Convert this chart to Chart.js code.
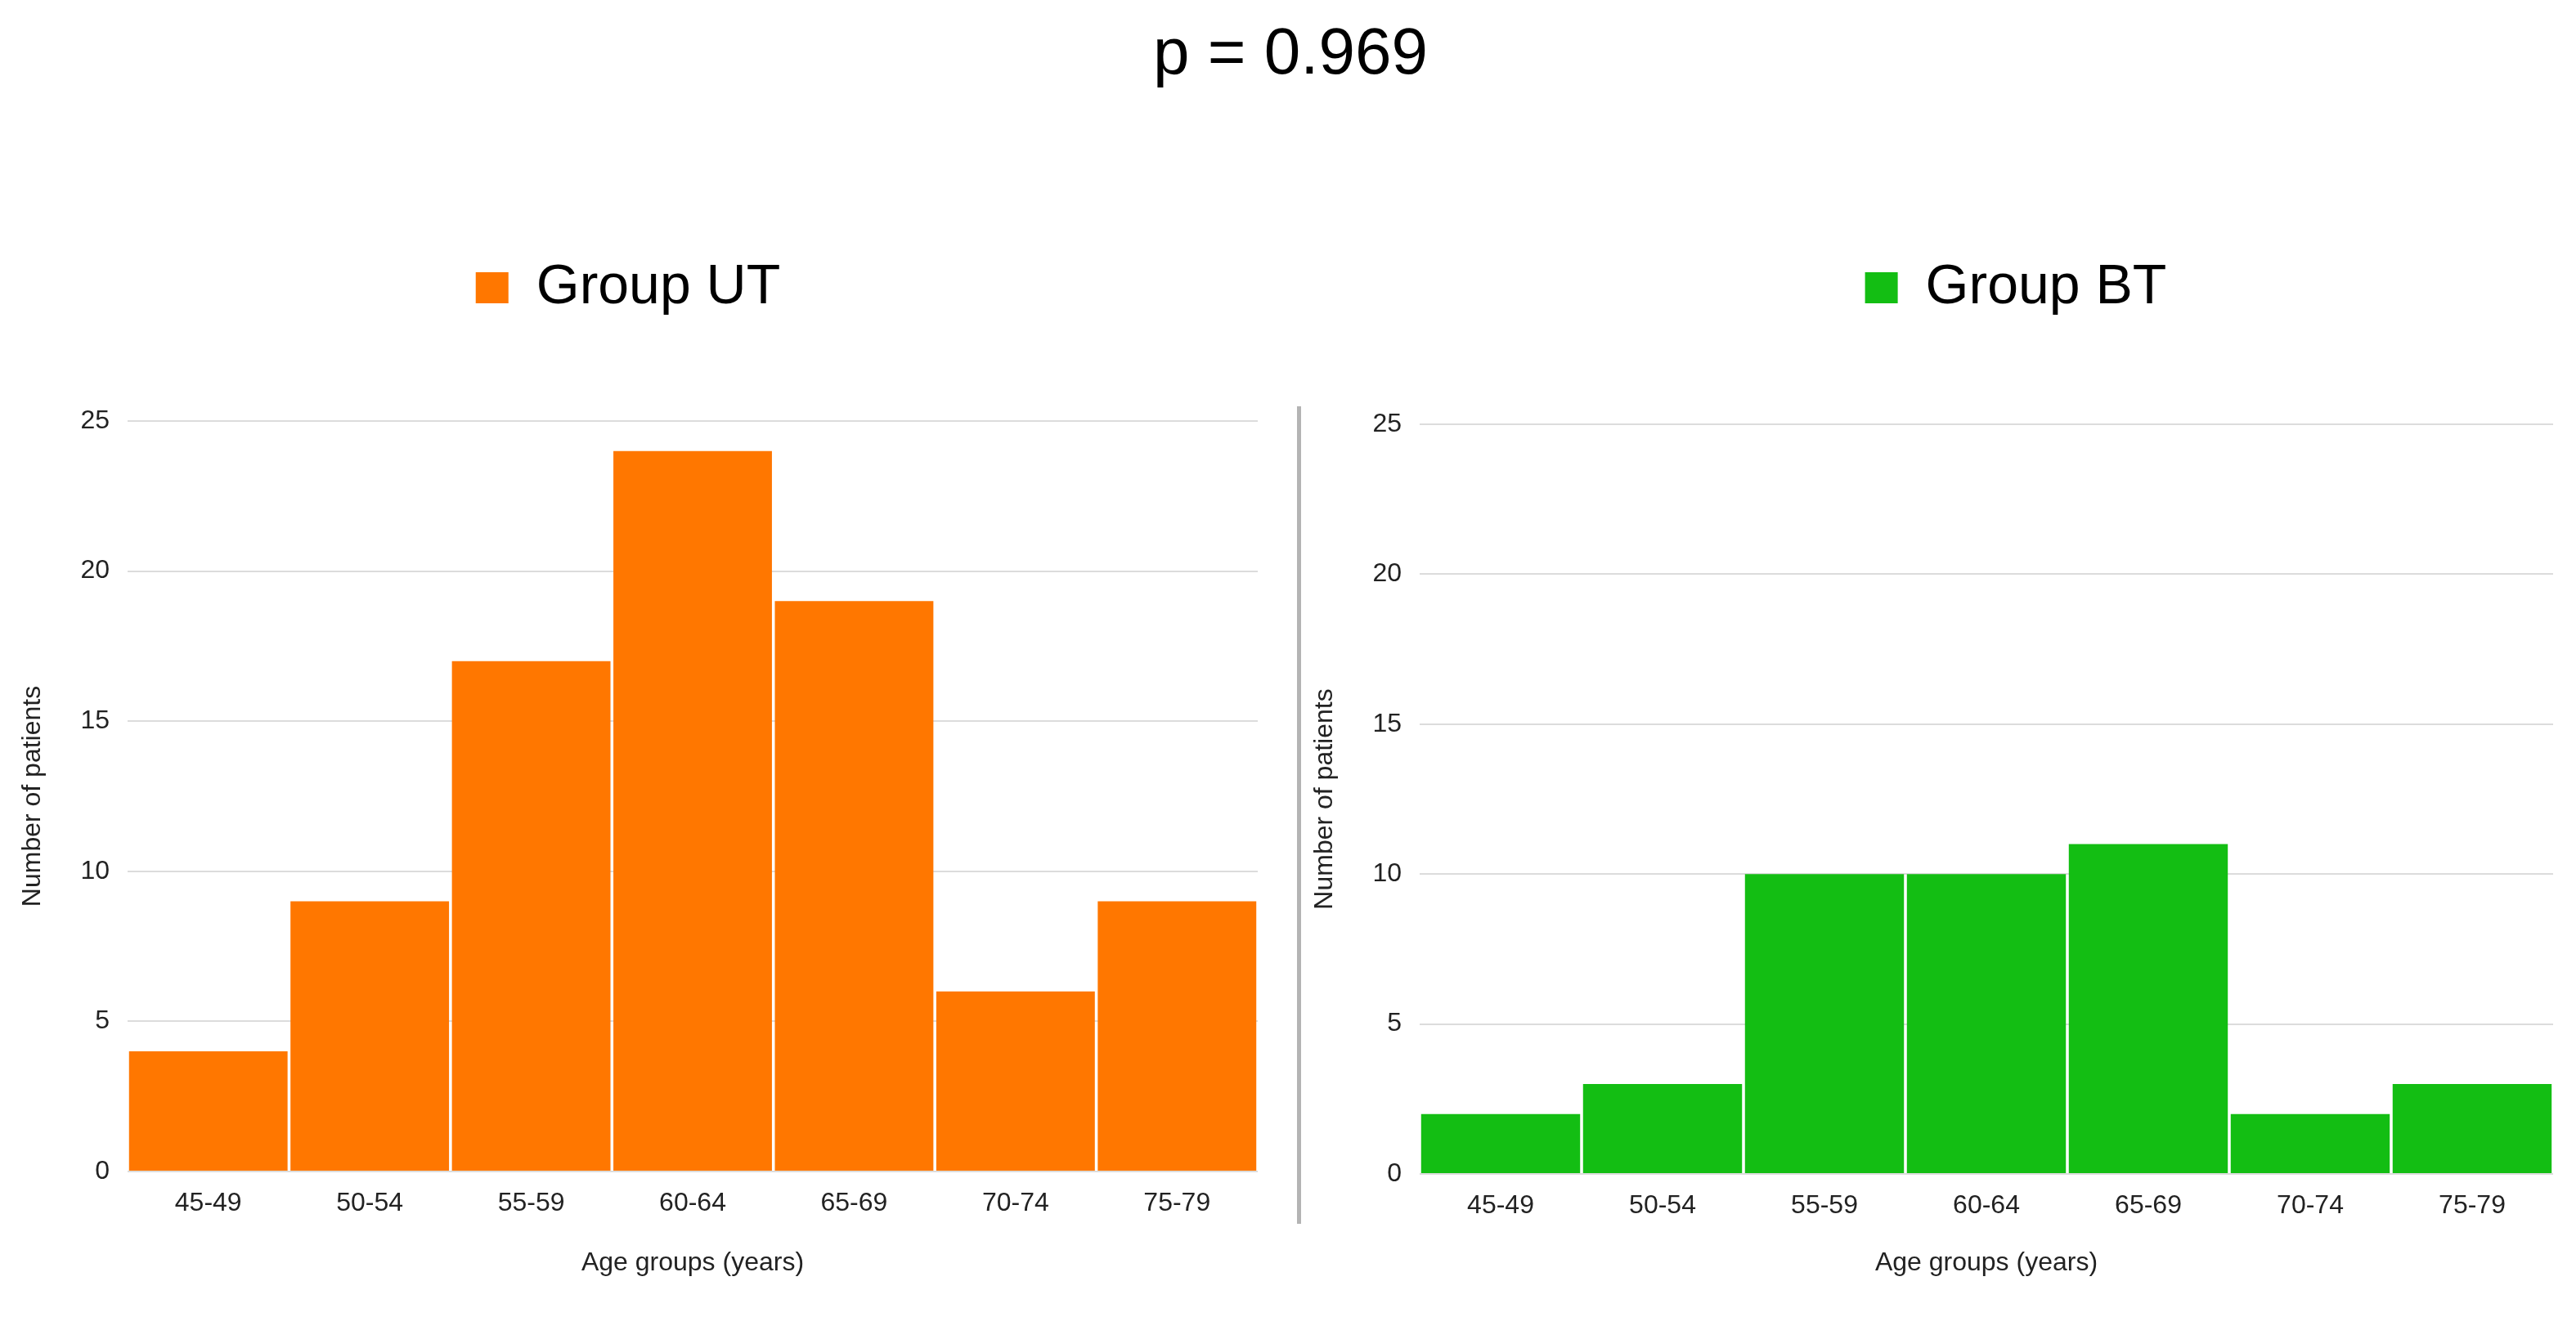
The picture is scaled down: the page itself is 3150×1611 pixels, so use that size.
<!DOCTYPE html>
<html>
<head>
<meta charset="utf-8">
<script src="https://cdn.jsdelivr.net/npm/chart.js@4/dist/chart.umd.min.js"></script>
<style>
  html, body { margin: 0; padding: 0; background: #fff; overflow: hidden; }
  body { position: relative; width: 3150px; height: 1611px; font-family: 'Liberation Sans', Arial, Helvetica, sans-serif; }
  #title { position: absolute; left: 1578px; top: 23px; transform: translateX(-50%); font-size: 80px; line-height: 80px; color: #000; white-space: nowrap; }
  #divider { position: absolute; left: 1586px; top: 497px; width: 5px; height: 1000px; background: #b4b4b4; }
  canvas { position: absolute; top: 0; }
  #chartUT { left: 0; }
  #chartBT { left: 1580px; }
</style>
</head>
<body>
<div id="title">p = 0.969</div>
<div id="divider"></div>
<canvas id="chartUT" width="1588" height="1611"></canvas>
<canvas id="chartBT" width="1570" height="1611"></canvas>
<script>
const ageGroups = ['45-49', '50-54', '55-59', '60-64', '65-69', '70-74', '75-79'];
const utCounts = [4, 9, 17, 24, 19, 6, 9];
const btCounts = [2, 3, 10, 10, 11, 2, 3];
const yTicks = [0, 5, 10, 15, 20, 25];

Chart.defaults.font.family = "'Liberation Sans', Arial, Helvetica, sans-serif";
Chart.defaults.color = '#222';

// move the legend to a fixed spot once the layout is done
const legendPlace = {
  id: 'legendPlace',
  afterLayout(chart, args, opts) {
    const lg = chart.legend;
    if (!lg) return;
    const w = lg.width, h = lg.height;
    lg.left = opts.centerX - w / 2;
    lg.right = lg.left + w;
    lg.top = opts.top;
    lg.bottom = opts.top + h;
  }
};

function makeHistogram(id, label, counts, color, o) {
  const ctx = document.getElementById(id).getContext('2d');
  return new Chart(ctx, {
    type: 'bar',
    data: {
      labels: ageGroups,
      datasets: [{
        label: label,
        data: counts,
        backgroundColor: color,
        borderWidth: 0,
        categoryPercentage: 1,
        barPercentage: 0.982
      }]
    },
    plugins: [legendPlace],
    options: {
      responsive: false,
      animation: false,
      devicePixelRatio: 1,
      layout: { padding: { top: o.padTop, right: o.padRight, bottom: 0, left: 0 } },
      plugins: {
        legend: {
          position: 'top',
          labels: {
            color: '#000',
            boxWidth: 40,
            boxHeight: 38,
            font: { size: 68 }
          }
        },
        legendPlace: { centerX: o.legendX, top: 308 },
        tooltip: { enabled: false }
      },
      scales: {
        x: {
          grid: { display: false, drawTicks: false },
          border: { display: false },
          ticks: { font: { size: 32 }, padding: 20, color: '#222' },
          title: { display: true, text: 'Age groups (years)', font: { size: 32 }, color: '#222', padding: { top: 0, bottom: 47 } },
          afterFit: (s) => { s.height = o.xHeight; }
        },
        y: {
          min: 0,
          max: 25,
          grid: { color: '#dcdcdc', lineWidth: 2, drawTicks: false },
          border: { display: false },
          ticks: { font: { size: 32 }, padding: 22, color: '#222' },
          afterBuildTicks: (s) => { s.ticks = yTicks.map(v => ({ value: v })); },
          title: { display: true, text: 'Number of patients', font: { size: 32 }, color: '#222', padding: { top: 21, bottom: 0 } },
          afterFit: (s) => { s.width = 156; }
        }
      }
    }
  });
}

makeHistogram('chartUT', 'Group UT', utCounts, '#ff7700', { padTop: 427, padRight: 50, xHeight: 178, legendX: 768 });
makeHistogram('chartBT', 'Group BT', btCounts, '#13be13', { padTop: 431, padRight: 28, xHeight: 175, legendX: 885 });
</script>
</body>
</html>
